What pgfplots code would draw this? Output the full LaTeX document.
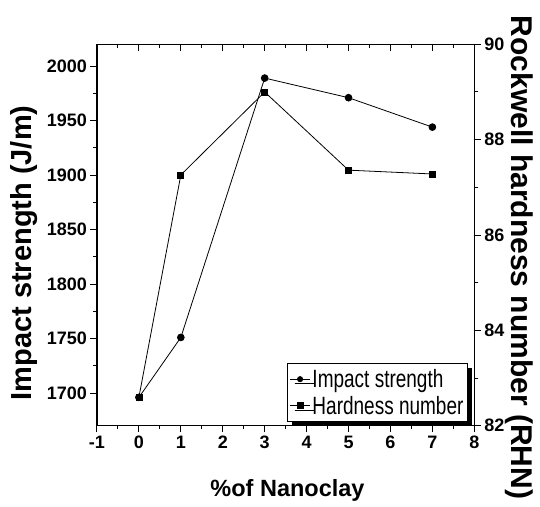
\documentclass[border=0pt]{standalone}
\usepackage{fontspec}
\setmainfont{Liberation Sans}
\newfontfamily\legfont[FakeStretch=0.76]{Liberation Sans}
\usepackage{pgfplots}
\pgfplotsset{compat=1.18}
\usetikzlibrary{calc,shadows}
\begin{document}
\begin{tikzpicture}
\pgfplotsset{
  common/.style={
    scale only axis, width=377.3pt, height=381.4pt,
    xmin=-1, xmax=8,
    /pgf/number format/assume math mode=true,
    ticklabel style={font=\bfseries\fontsize{18}{18}\selectfont},
    axis line style={-, line width=1.2pt},
    every tick/.style={black, line width=1pt},
    major tick length=6.5pt, minor tick length=3.5pt,
    clip=false,
  }
}
% main axis: impact strength, left and bottom
\begin{axis}[common,
  axis x line*=bottom, axis y line*=left,
  tick align=outside,
  ymin=1670, ymax=2020,
  xtick={-1,0,...,8}, minor x tick num=1,
  ytick={1700,1750,...,2000}, minor y tick num=1,
  /pgf/number format/.cd, 1000 sep={}, /tikz/.cd,
  every axis y label/.style={at={(rel axis cs:-0.193,0.453)}, rotate=90, anchor=center},
  ylabel={\bfseries\fontsize{29}{29}\selectfont Impact strength (J/m)},
  every axis x label/.style={at={(rel axis cs:0.505,-0.186)}, anchor=base},
  xlabel={\bfseries\fontsize{23.5}{23.5}\selectfont \%of Nanoclay},
]
\coordinate (SW) at (rel axis cs:0,0);
\coordinate (NE) at (rel axis cs:1,1);
\addplot[black, line width=0.8pt, mark=*, mark size=3.4pt] coordinates {
  (0,1696) (1,1751) (3,1989) (5,1971) (7,1944)
};
\end{axis}
% top axis: inward ticks only
\begin{axis}[common,
  axis x line*=top, axis y line=none,
  tick align=inside,
  ymin=0, ymax=1,
  xtick={-1,0,...,8}, minor x tick num=1, xticklabels={},
]
\end{axis}
% right axis: hardness
\begin{axis}[common,
  axis y line*=right, axis x line=none,
  tick align=outside,
  ymin=82, ymax=90,
  ytick={82,84,...,90}, minor y tick num=1,
  every axis y label/.style={at={(rel axis cs:1.118,0.441)}, rotate=-90, anchor=center},
  ylabel={\bfseries\fontsize{30}{30}\selectfont Rockwell hardness number (RHN)},
  legend style={at={(0.983,0.0097)}, anchor=south east,
    draw=black, line width=0.8pt, fill=white,
    drop shadow={shadow xshift=4.5pt, shadow yshift=-4.5pt, fill=black, opacity=1},
    font=\legfont\fontsize{25}{27}\selectfont,
    inner xsep=2pt, inner ysep=4pt, row sep=3pt,
    /tikz/every even column/.append style={column sep=0pt}},
  legend cell align=left,
  legend image post style={line width=0.8pt},
  legend image code/.code={
    \draw[#1] (0pt,0pt) -- (20pt,0pt);
    \draw[#1, only marks] plot coordinates {(10pt,0pt)};
  },
]
\addlegendimage{black, mark=*, mark size=2.6pt}
\addlegendentry{Impact strength}
\addplot[black, line width=0.8pt, mark=square*, mark size=3pt] coordinates {
  (0,82.6) (1,87.26) (3,89.0) (5,87.36) (7,87.28)
};
\addlegendentry{Hardness number}
\end{axis}
\pgfresetboundingbox
\path[use as bounding box] ($(SW)+(-97pt,-80.3pt)$) rectangle ($(NE)+(65.7pt,44.3pt)$);
\end{tikzpicture}
\end{document}
